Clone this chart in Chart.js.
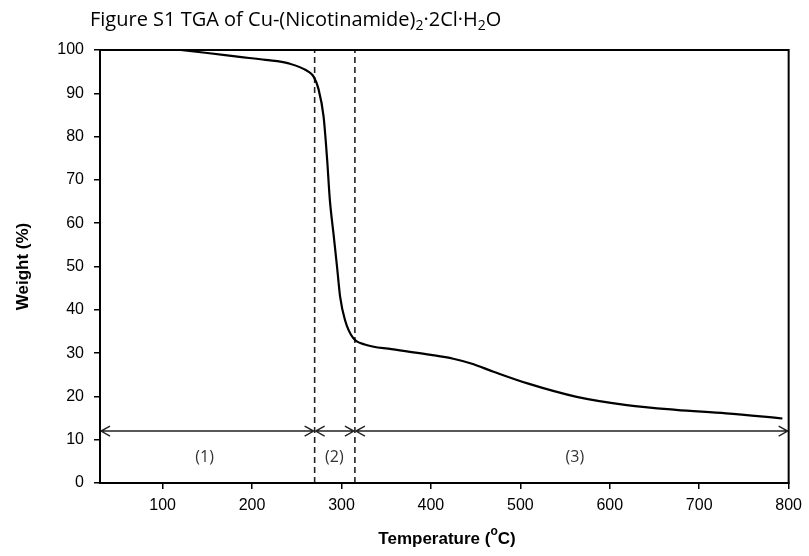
<!DOCTYPE html>
<html>
<head>
<meta charset="utf-8">
<script src="https://cdn.jsdelivr.net/npm/chart.js@4.4.1/dist/chart.umd.min.js"></script>
<style>
  html, body { margin: 0; padding: 0; background: #fff; }
  #wrap { width: 809px; height: 556px; }
</style>
</head>
<body>
<div id="wrap"><canvas id="tgaChart"></canvas></div>
<script>
// TGA curve
const temps   = [120, 150, 186, 215, 241, 263, 269, 274, 280, 284, 287, 291, 295, 298.5, 304, 313, 326, 356, 400, 425, 445, 470, 508, 563, 619, 674, 730, 793];
const weights = [100, 99.3, 98.4, 97.7, 96.9, 95, 93.8, 91.2, 84.6, 74.6, 65.4, 57.7, 50, 43, 37.6, 33.5, 32, 30.9, 29.6, 28.7, 27.6, 25.7, 23, 19.9, 18, 16.9, 16.1, 14.9];
const stageBounds = [270, 315];
const stageRanges = [[30, 270], [270, 315], [315, 800]];
const stageLabels = ['(1)', '(2)', '(3)'];
const stageLabelX = [147, 292, 561];
const arrowLevel = 12;
const stageLabelY = 6;
const xTicks = [100, 200, 300, 400, 500, 600, 700, 800];

const dashSets = stageBounds.map(t => ({
    data: [{x: t, y: 0}, {x: t, y: 100}],
    borderColor: '#222',
    borderWidth: 1.6,
    borderDash: [6, 4],
    pointRadius: 0,
    fill: false
}));

const decorations = {
    id: 'decorations',
    afterDatasetsDraw(chart) {
        const ctx = chart.ctx;
        const xs = chart.scales.x, ys = chart.scales.y;
        const area = chart.chartArea;
        ctx.save();
        // arrows
        ctx.strokeStyle = '#222';
        ctx.lineWidth = 1.4;
        const yA = ys.getPixelForValue(arrowLevel);
        stageRanges.forEach(r => {
            const a = xs.getPixelForValue(r[0]) + 1;
            const b = xs.getPixelForValue(r[1]) - 1;
            ctx.beginPath();
            ctx.moveTo(a, yA); ctx.lineTo(b, yA);
            ctx.moveTo(a + 9, yA - 5); ctx.lineTo(a, yA); ctx.lineTo(a + 9, yA + 5);
            ctx.moveTo(b - 9, yA - 5); ctx.lineTo(b, yA); ctx.lineTo(b - 9, yA + 5);
            ctx.stroke();
        });
        // stage labels
        ctx.fillStyle = '#333';
        ctx.font = '16px "Open Sans"';
        ctx.textAlign = 'center';
        ctx.textBaseline = 'middle';
        stageLabels.forEach((s, i) => {
            ctx.fillText(s, xs.getPixelForValue(stageLabelX[i]), ys.getPixelForValue(stageLabelY));
        });
        // frame
        ctx.strokeStyle = '#000';
        ctx.lineWidth = 2;
        ctx.strokeRect(area.left, area.top, area.right - area.left, area.bottom - area.top);
        // figure title with subscripts
        ctx.fillStyle = '#000';
        ctx.textAlign = 'left';
        ctx.textBaseline = 'alphabetic';
        const parts = [['Figure S1 TGA of Cu-(Nicotinamide)', 0], ['2', 1], ['\u00b72Cl\u00b7H', 0], ['2', 1], ['O', 0]];
        let x = 90;
        parts.forEach(p => {
            ctx.font = p[1] ? '14px "Open Sans"' : '20px "Open Sans"';
            ctx.fillText(p[0], x, p[1] ? 30 : 26);
            x += ctx.measureText(p[0]).width;
        });
        // x axis title with superscript o
        const t1 = 'Temperature (', t2 = 'o', t3 = 'C)';
        ctx.font = 'bold 17px "Liberation Sans"';
        const w1 = ctx.measureText(t1).width, w3 = ctx.measureText(t3).width;
        ctx.font = 'bold 12px "Liberation Sans"';
        const w2 = ctx.measureText(t2).width;
        let tx = 447 - (w1 + w2 + w3) / 2;
        ctx.font = 'bold 17px "Liberation Sans"';
        ctx.fillText(t1, tx, 544);
        tx += w1;
        ctx.font = 'bold 12px "Liberation Sans"';
        ctx.fillText(t2, tx, 535);
        tx += w2;
        ctx.font = 'bold 17px "Liberation Sans"';
        ctx.fillText(t3, tx, 544);
        ctx.restore();
    }
};

new Chart(document.getElementById('tgaChart').getContext('2d'), {
    type: 'line',
    data: {
        datasets: [{
            data: temps.map((t, i) => ({x: t, y: weights[i]})),
            borderColor: '#000',
            borderWidth: 2.2,
            pointRadius: 0,
            cubicInterpolationMode: 'monotone',
            fill: false
        }].concat(dashSets)
    },
    options: {
        responsive: true,
        maintainAspectRatio: false,
        animation: false,
        layout: { padding: { top: 50, right: 16, left: 0, bottom: 0 } },
        plugins: {
            legend: { display: false },
            tooltip: { enabled: false },
            title: { display: false }
        },
        scales: {
            x: {
                type: 'linear',
                min: 30,
                max: 800,
                afterBuildTicks: axis => { axis.ticks = xTicks.map(v => ({value: v})); },
                afterFit: axis => { axis.height = 73; },
                grid: { drawOnChartArea: false, tickLength: 6, color: '#000', lineWidth: 1.5 },
                border: { color: '#000', width: 2 },
                ticks: { color: '#000', font: { family: 'Liberation Sans', size: 16 }, padding: 7, maxRotation: 0 }
            },
            y: {
                min: 0,
                max: 100,
                afterFit: axis => { axis.width = 100; },
                grid: { drawOnChartArea: false, tickLength: 6, color: '#000', lineWidth: 1.5 },
                border: { color: '#000', width: 2 },
                ticks: { stepSize: 10, color: '#000', font: { family: 'Liberation Sans', size: 16 }, padding: 10 },
                title: {
                    display: true,
                    text: 'Weight (%)',
                    color: '#000',
                    font: { family: 'Liberation Sans', size: 17, weight: 'bold' },
                    padding: { top: 13, bottom: 0 }
                }
            }
        }
    },
    plugins: [decorations]
});
</script>
</body>
</html>
